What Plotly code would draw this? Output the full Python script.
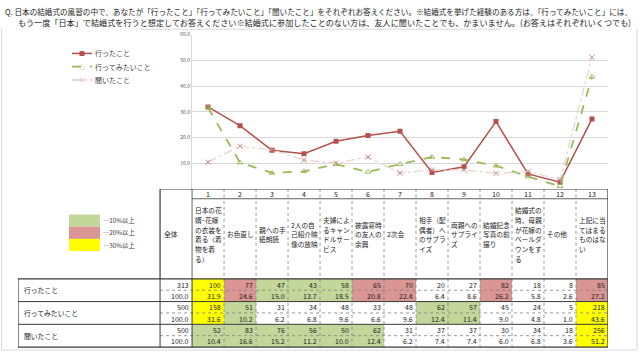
import plotly.graph_objects as go

# ---------------- data ----------------
categories = [str(i) for i in range(1, 14)]
item_labels = [
    "日本の花\n婿･花嫁\nの衣装を\n着る（着\n物を着\nる）",
    "お色直し",
    "親への手\n紙朗読",
    "2人の自\n己紹介映\n像の放映",
    "夫婦によ\nるキャン\nドルサー\nビス",
    "披露宴時\nの友人の\n余興",
    "2次会",
    "相手（配\n偶者）へ\nのサプラ\nイズ",
    "両親への\nサプライ\nズ",
    "結婚記念\n写真の前\n撮り",
    "結婚式の\n時、母親\nが花嫁の\nベールダ\nウンをす\nる",
    "その他",
    "上記に当\nてはまる\nものはな\nい",
]
series_names = ["行ったこと", "行ってみたいこと", "聞いたこと"]
base_n = [313, 500, 500]
base_pct = ["100.0", "100.0", "100.0"]

counts_done = [100, 77, 47, 43, 58, 65, 70, 20, 27, 82, 18, 8, 85]
pct_done = [31.9, 24.6, 15.0, 13.7, 18.5, 20.8, 22.4, 6.4, 8.6, 26.2, 5.8, 2.6, 27.2]
counts_want = [158, 51, 31, 34, 48, 33, 48, 62, 57, 45, 24, 5, 218]
pct_want = [31.6, 10.2, 6.2, 6.8, 9.6, 6.6, 9.6, 12.4, 11.4, 9.0, 4.8, 1.0, 43.6]
counts_heard = [52, 83, 76, 56, 50, 62, 31, 37, 37, 30, 34, 18, 256]
pct_heard = [10.4, 16.6, 15.2, 11.2, 10.0, 12.4, 6.2, 7.4, 7.4, 6.0, 6.8, 3.6, 51.2]

y_ticks = [10, 20, 30, 40, 50, 60]
legend_labels = ["…10%以上", "…20%以上", "…30%以上"]
title_lines = [
    "Q. 日本の結婚式の風習の中で、あなたが「行ったこと」「行ってみたいこと」「聞いたこと」をそれぞれお答えください。※結婚式を挙げた経験のある方は、「行ってみたいこと」には、",
    "もう一度「日本」で結婚式を行うと想定してお答えください※結婚式に参加したことのない方は、友人に聞いたことでも、かまいません。(お答えはそれぞれいくつでも)",
]

all_counts = [counts_done, counts_want, counts_heard]
all_pcts = [pct_done, pct_want, pct_heard]

# ---------------- styles ----------------
W, H = 640, 352
FONT = "Noto Sans CJK JP"
GREEN, PINK, YELLOW = "#C4D79B", "#DA9694", "#FFFF00"
BORDER = "#3A3A3A"
DASHC = "#7F7F7F"

def px(x):
    return x / W

def py(y):
    return 1 - y / H

def shade(p):
    if p >= 30:
        return YELLOW
    if p >= 20:
        return PINK
    if p >= 10:
        return GREEN
    return None

fig = go.Figure()

series_colors = ["#B5504D", "#9BBB59", "#E6D2CB"]
marker_colors = ["#B5504D", "#9BBB59", "#C98583"]
styles = [
    dict(line=dict(color=series_colors[0], width=1.5),
         marker=dict(symbol="square", size=5, color=marker_colors[0])),
    dict(line=dict(color=series_colors[1], width=1.8, dash="dash"),
         marker=dict(symbol="triangle-up-open", size=5, color=marker_colors[1], line=dict(width=1))),
    dict(line=dict(color=series_colors[2], width=1.2, dash="dashdot"),
         marker=dict(symbol="x-thin-open", size=5, color=marker_colors[2],
                     line=dict(width=1, color=marker_colors[2]))),
]
xs = list(range(1, 14))
for name, vals, st in zip(series_names, all_pcts, styles):
    fig.add_trace(go.Scatter(x=xs, y=vals, name=name, mode="lines+markers",
                             xaxis="x", yaxis="y", hoverinfo="skip", showlegend=False, **st))

# ---------------- table ----------------
HDR_NUM = 10
HDR_END = 91
ROW_H = 23
SUB_H = 11.5
LBL_LEFT = -4.94
RIGHT = 13.5
TABLE_END = HDR_END + 3 * ROW_H

shapes = []
annotations = []

def rect(x0, x1, y0, y1, fill):
    shapes.append(dict(type="rect", xref="x2", yref="y2", x0=x0, x1=x1, y0=y0, y1=y1,
                       fillcolor=fill, line=dict(width=0), layer="below"))

def line(x0, x1, y0, y1, color=BORDER, width=1, dash="solid"):
    shapes.append(dict(type="line", xref="x2", yref="y2", x0=x0, x1=x1, y0=y0, y1=y1,
                       line=dict(color=color, width=width, dash=dash)))

def txt(x, y, s, anchor="left", size=7, color="#222222"):
    annotations.append(dict(xref="x2", yref="y2", x=x, y=y, text=s, showarrow=False,
                            xanchor=anchor, yanchor="middle",
                            font=dict(family=FONT, size=size, color=color)))

for r in range(3):
    for j in range(13):
        c = shade(all_pcts[r][j])
        if c:
            rect(j + 0.5, j + 1.5, HDR_END + r * ROW_H, HDR_END + (r + 1) * ROW_H, c)

for j in range(1, 13):
    line(j + 0.5, j + 0.5, 0, HDR_END, DASHC, 0.8, "dot")
line(0.5, RIGHT, HDR_NUM, HDR_NUM, BORDER, 0.8)
line(-0.5, RIGHT, 0, 0, BORDER, 1.2)
line(-0.5, -0.5, 0, HDR_END, BORDER, 1.2)
line(0.5, 0.5, 0, HDR_END, BORDER, 0.8)
line(RIGHT, RIGHT, 0, TABLE_END, BORDER, 1.2)

for j in range(1, 13):
    line(j + 0.5, j + 0.5, HDR_END, TABLE_END, DASHC, 0.8, "dot")
for r in range(3):
    ytop = HDR_END + r * ROW_H
    line(LBL_LEFT, RIGHT, ytop, ytop, BORDER, 1.0 if r else 1.2)
    line(-0.5, RIGHT, ytop + SUB_H, ytop + SUB_H, DASHC, 0.8, "dot")
line(LBL_LEFT, RIGHT, TABLE_END, TABLE_END, BORDER, 1.2)
line(LBL_LEFT, LBL_LEFT, HDR_END, TABLE_END, BORDER, 1.2)
line(-0.5, -0.5, HDR_END, TABLE_END, BORDER, 1.0)
line(0.5, 0.5, HDR_END, TABLE_END, BORDER, 1.0)

for j, cat in enumerate(categories):
    txt(j + 1, HDR_NUM / 2, cat, "center")
    parts = item_labels[j].split("\n")
    n = len(parts)
    LH = 9.8
    for k, p in enumerate(parts):
        txt(j + 1 - 0.47, 46 - (n - 1) / 2 * LH + k * LH, p, "left", 6.7)
txt(-0.45, 46, "全体", "left", 6.8)

for r in range(3):
    ytop = HDR_END + r * ROW_H
    txt(LBL_LEFT + 0.12, ytop + SUB_H, series_names[r], "left", 6.8)
    txt(0.47, ytop + SUB_H / 2, str(base_n[r]), "right")
    txt(0.47, ytop + SUB_H * 1.5, base_pct[r], "right")
    for j in range(13):
        txt(j + 1.47, ytop + SUB_H / 2, str(all_counts[r][j]), "right")
        txt(j + 1.47, ytop + SUB_H * 1.5, f"{all_pcts[r][j]:.1f}", "right")

# ---------------- series legend (drawn) ----------------
leg_dash = ["solid", "dash", "dashdot"]
leg_width = [1.5, 1.8, 1.5]
leg_glyph = ["■", "△", "×"]
for i, name in enumerate(series_names):
    yc = 50 + i * 13.4
    shapes.append(dict(type="line", xref="paper", yref="paper", x0=px(72), x1=px(92),
                       y0=py(yc), y1=py(yc),
                       line=dict(color=series_colors[i] if i < 2 else "#EBC3C0",
                                 width=leg_width[i], dash=leg_dash[i])))
    annotations.append(dict(xref="paper", yref="paper", x=px(82), y=py(yc), text=leg_glyph[i],
                            showarrow=False, xanchor="center", yanchor="middle",
                            font=dict(family=FONT, size=6, color=marker_colors[i])))
    annotations.append(dict(xref="paper", yref="paper", x=px(93), y=py(yc), text=name,
                            showarrow=False, xanchor="left", yanchor="middle",
                            font=dict(family=FONT, size=7, color="#404040")))

# colour key
key_cols = [GREEN, PINK, YELLOW]
for i, (c, lab) in enumerate(zip(key_cols, legend_labels)):
    y0 = 213 + i * 12.3
    shapes.append(dict(type="rect", xref="paper", yref="paper", x0=px(69), x1=px(100),
                       y0=py(y0 + 12.3), y1=py(y0), fillcolor=c, line=dict(width=0)))
    annotations.append(dict(xref="paper", yref="paper", x=px(101), y=py(y0 + 6.2), text=lab,
                            showarrow=False, xanchor="left", yanchor="middle",
                            font=dict(family=FONT, size=6.3, color="#333333")))

# title
annotations.append(dict(xref="paper", yref="paper", x=px(3), y=py(7.5), text=title_lines[0],
                        showarrow=False, xanchor="left", yanchor="middle",
                        font=dict(family=FONT, size=7.6, color="#222222")))
annotations.append(dict(xref="paper", yref="paper", x=px(16), y=py(18.5), text=title_lines[1],
                        showarrow=False, xanchor="left", yanchor="middle",
                        font=dict(family=FONT, size=8.15, color="#222222")))

FR = "#D9D9D9"
for (x0, y0, x1, y1) in [(140, 25.5, 500, 25.5), (1.5, 25, 1.5, 350), (637, 25, 637, 350),
                         (1.5, 350, 637, 350)]:
    shapes.append(dict(type="line", xref="paper", yref="paper", x0=px(x0), y0=py(y0),
                       x1=px(x1), y1=py(y1), line=dict(color=FR, width=1)))

fig.update_layout(
    width=W, height=H,
    margin=dict(l=0, r=0, t=0, b=0),
    paper_bgcolor="white", plot_bgcolor="rgba(0,0,0,0)",
    showlegend=False,
    xaxis=dict(domain=[px(192), px(608)], range=[0.5, 13.5], showgrid=False,
               showticklabels=False, zeroline=False, showline=False, fixedrange=True),
    yaxis=dict(domain=[py(187), py(31)], range=[0, 60], tickvals=y_ticks,
               tickformat=".1f", ticksuffix="%", showgrid=True, gridcolor="#D9D9D9",
               gridwidth=1, zeroline=False, showline=True, linecolor="#D9D9D9",
               ticks="", tickfont=dict(family=FONT, size=5, color="#595959"),
               fixedrange=True),
    xaxis2=dict(domain=[px(18), px(608)], range=[LBL_LEFT, RIGHT], visible=False,
                anchor="y2", fixedrange=True),
    yaxis2=dict(domain=[0, py(187)], range=[165, 0], visible=False, anchor="x2",
                fixedrange=True),
    shapes=shapes,
    annotations=annotations,
    hovermode=False,
)

fig.write_html("out.html", config={"displayModeBar": False, "staticPlot": True})
